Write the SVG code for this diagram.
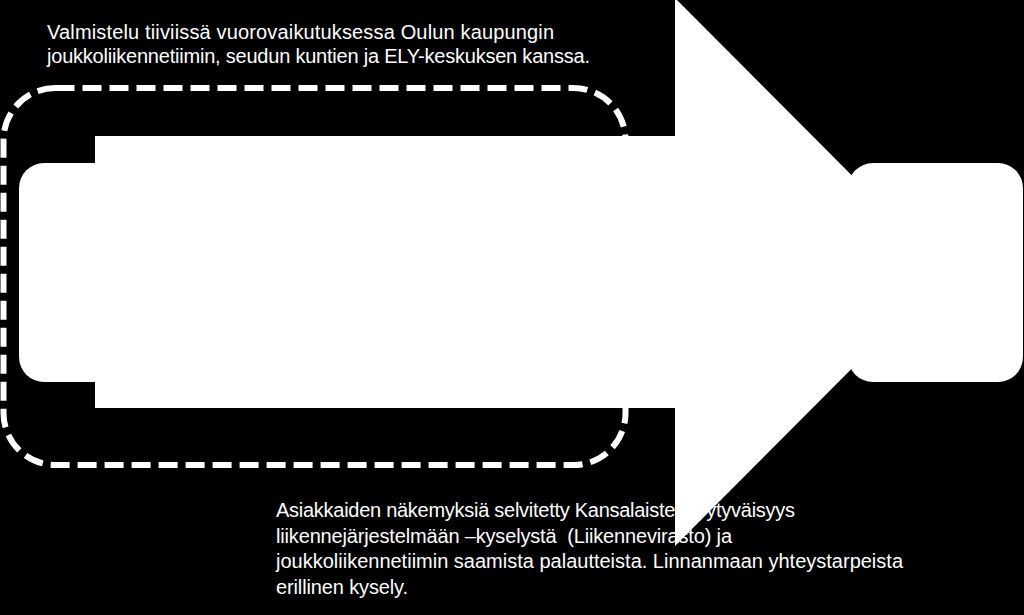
<svg xmlns="http://www.w3.org/2000/svg" width="1024" height="615" viewBox="0 0 1024 615">
  <style>
    .shape { fill: #ffffff; }
    .txt { fill: #ffffff; font-family: "Liberation Sans", Arial, sans-serif; font-size: 20px; }
    .frame { fill: none; stroke: #ffffff; stroke-width: 6; stroke-dasharray: 19 8; }
  </style>
  <rect x="0" y="0" width="1024" height="615" fill="#000000"/>
  <g id="text-bottom">
    <text class="txt" xml:space="preserve" x="276" y="517" textLength="519">Asiakkaiden näkemyksiä selvitetty Kansalaisten tyytyväisyys</text>
    <text class="txt" xml:space="preserve" x="276" y="543" textLength="456">liikennejärjestelmään –kyselystä  (Liikennevirasto) ja</text>
    <text class="txt" xml:space="preserve" x="276" y="568" textLength="627">joukkoliikennetiimin saamista palautteista. Linnanmaan yhteystarpeista</text>
    <text class="txt" xml:space="preserve" x="276" y="594" textLength="132">erillinen kysely.</text>
  </g>
  <g id="dashed-frame">
    <rect class="frame" x="3.5" y="88" width="622" height="377" rx="52" ry="52"/>
  </g>
  <g id="arrow">
    <polygon class="shape" points="95,136 675,136 675,-2 948,272 675,546 675,408 95,408"/>
  </g>
  <g id="left-box">
    <rect class="shape" x="19" y="163" width="200" height="219" rx="25" ry="25"/>
  </g>
  <g id="right-box">
    <rect class="shape" x="848" y="163" width="175" height="219" rx="25" ry="25"/>
  </g>
  <g id="text-top">
    <text class="txt" x="47" y="39" textLength="507">Valmistelu tiiviissä vuorovaikutuksessa Oulun kaupungin</text>
    <text class="txt" x="47" y="63" textLength="543">joukkoliikennetiimin, seudun kuntien ja ELY-keskuksen kanssa.</text>
  </g>
</svg>
